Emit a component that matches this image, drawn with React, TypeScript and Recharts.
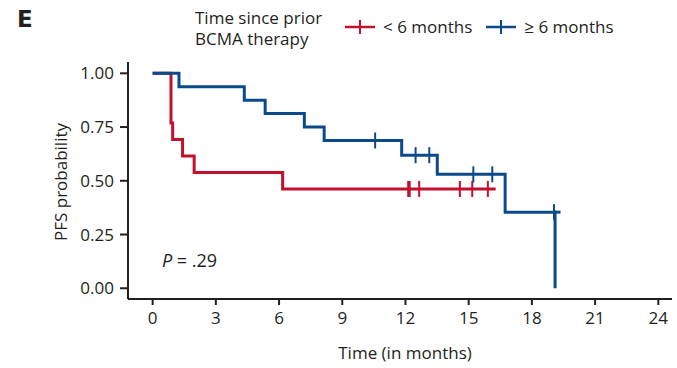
import React from 'react';
import { ComposedChart, Line, Scatter, XAxis, YAxis } from 'recharts';

// Kaplan-Meier steps (time in months, survival probability)
const lessTimes = [0, 0.87, 0.95, 1.42, 1.97, 6.17, 16.28];
const lessSurv = [1, 0.769, 0.692, 0.615, 0.538, 0.462, 0.462];
const lessCensorTimes = [12.13, 12.2, 12.65, 14.58, 15.17, 15.91];
const lessCensorSurv = [0.462, 0.462, 0.462, 0.462, 0.462, 0.462];

const moreTimes = [0, 1.25, 4.35, 5.34, 7.2, 8.14, 11.82, 13.51, 16.73, 19.1, 19.1];
const moreSurv = [1, 0.9375, 0.875, 0.8125, 0.75, 0.6875, 0.619, 0.53, 0.354, 0.354, 0];
const moreTailTimes = [19.1, 19.36];
const moreTailSurv = [0.354, 0.354];
const moreCensorTimes = [10.56, 12.48, 13.13, 15.22, 16.12, 19.05];
const moreCensorSurv = [0.6875, 0.619, 0.619, 0.53, 0.53, 0.354];

const xTicks = [0, 3, 6, 9, 12, 15, 18, 21, 24];
const yTicks = [0, 0.25, 0.5, 0.75, 1];

const RED = '#c2102e';
const BLUE = '#0b4a8a';
const INK = '#231f20';
const FONT = '"Open Sans", "DejaVu Sans", sans-serif';

const zip = (t: number[], s: number[]) => t.map((v, i) => ({ t: v, s: s[i] }));

const lessData = zip(lessTimes, lessSurv);
const lessCensor = zip(lessCensorTimes, lessCensorSurv);
const moreData = zip(moreTimes, moreSurv);
const moreTail = zip(moreTailTimes, moreTailSurv);
const moreCensor = zip(moreCensorTimes, moreCensorSurv);

const censorMark = (color: string) => (props: any) => {
  const { cx, cy } = props;
  return <line x1={cx} x2={cx} y1={cy - 8} y2={cy + 8} stroke={color} strokeWidth={2} />;
};

function LegendCross({ color }: { color: string }) {
  return (
    <svg width={30} height={16} style={{ display: 'block' }}>
      <line x1={0} x2={30} y1={8} y2={8} stroke={color} strokeWidth={2.5} />
      <line x1={15} x2={15} y1={1} y2={15} stroke={color} strokeWidth={2} />
    </svg>
  );
}

export default function App() {
  const tick = { fill: INK, fontSize: 17, fontFamily: FONT };
  return (
    <div style={{ position: 'absolute', left: 0, top: 0, width: 677, height: 368, background: '#fff', fontFamily: FONT, color: INK }}>
      <ComposedChart width={677} height={368} margin={{ top: 62, right: 5, bottom: 39, left: 68 }}>
        <XAxis
          type="number"
          dataKey="t"
          domain={[-1.17, 24.65]}
          ticks={xTicks}
          allowDataOverflow
          height={30}
          tick={tick}
          tickSize={6}
          tickMargin={7}
          stroke={INK}
          strokeWidth={2}
        />
        <YAxis
          type="number"
          dataKey="s"
          domain={[-0.05, 1.0526]}
          ticks={yTicks}
          allowDataOverflow
          width={60}
          tick={tick}
          tickSize={8}
          tickMargin={6}
          tickFormatter={(v: number) => v.toFixed(2)}
          stroke={INK}
          strokeWidth={2}
        />
        <Line data={lessData} dataKey="s" type="stepAfter" stroke={RED} strokeWidth={3} dot={false} isAnimationActive={false} />
        <Line data={moreData} dataKey="s" type="stepAfter" stroke={BLUE} strokeWidth={3} dot={false} isAnimationActive={false} />
        <Line data={moreTail} dataKey="s" type="linear" stroke={BLUE} strokeWidth={3} dot={false} isAnimationActive={false} />
        <Scatter data={lessCensor} dataKey="s" shape={censorMark(RED)} isAnimationActive={false} />
        <Scatter data={moreCensor} dataKey="s" shape={censorMark(BLUE)} isAnimationActive={false} />
      </ComposedChart>

      <div style={{ position: 'absolute', left: 17, top: 6, fontSize: 23, fontWeight: 700, fontFamily: '"DejaVu Sans", sans-serif' }}>E</div>

      <div style={{ position: 'absolute', left: 195, top: 7, fontSize: 17, lineHeight: '21px' }}>
        Time since prior<br />BCMA therapy
      </div>
      <div style={{ position: 'absolute', left: 345, top: 17, display: 'flex', alignItems: 'center', fontSize: 17, lineHeight: '20px' }}>
        <LegendCross color={RED} />
        <span style={{ marginLeft: 8 }}>&lt; 6 months</span>
        <span style={{ marginLeft: 14 }}><LegendCross color={BLUE} /></span>
        <span style={{ marginLeft: 8 }}>≥ 6 months</span>
      </div>

      <div style={{ position: 'absolute', left: 162, top: 248, fontSize: 18 }}>
        <i>P</i> = .29
      </div>

      <div
        style={{
          position: 'absolute',
          left: 60,
          top: 182,
          transform: 'translate(-50%, -50%) rotate(-90deg)',
          whiteSpace: 'nowrap',
          fontSize: 17,
        }}
      >
        PFS probability
      </div>
      <div style={{ position: 'absolute', left: 405, top: 352, transform: 'translate(-50%, -50%)', whiteSpace: 'nowrap', fontSize: 17 }}>
        Time (in months)
      </div>
    </div>
  );
}
